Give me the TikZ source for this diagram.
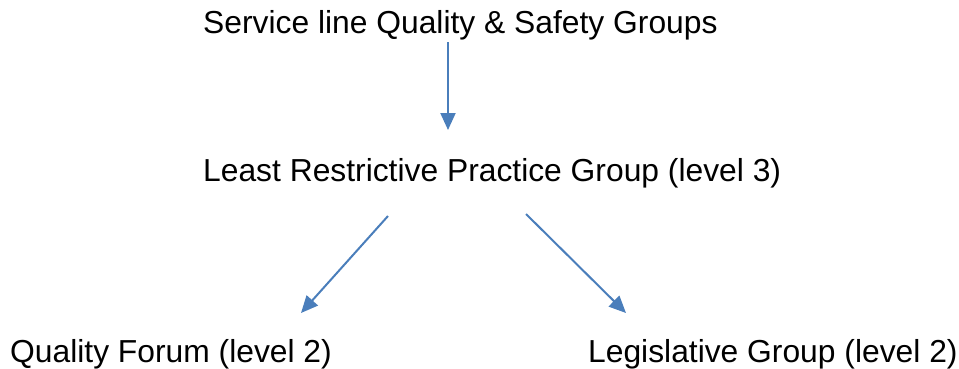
\documentclass[tikz,border=0pt]{standalone}
\usepackage{fontspec}
\setmainfont{Liberation Sans}
\usetikzlibrary{arrows.meta}
\definecolor{arrowblue}{RGB}{74,126,187}
\begin{document}
\begin{tikzpicture}[x=1pt, y=-1pt]
            \useasboundingbox (0,0) rectangle (959,368);

            \foreach \n/\x/\y/\t in {
                quality/203/33/{Service line Quality \& Safety Groups},
                lrp/203/181/{Least Restrictive Practice Group (level 3)},
                forum/10/362/{Quality Forum (level 2)},
                legis/588/362/{Legislative Group (level 2)}%
            } {
                \node[font=\fontsize{31.8}{38}\selectfont, anchor=base west,
                    inner sep=0pt] (\n) at (\x, \y) {\t};
            }

            \coordinate (q0) at (448, 42);
            \coordinate (l0) at (448, 130);
            \coordinate (l1) at (388, 216);
            \coordinate (f0) at (301, 313);
            \coordinate (l2) at (526, 214);
            \coordinate (g0) at (626, 313);

            \foreach \a/\b in {q0/l0, l1/f0, l2/g0} {
                \draw[-{Triangle[length=17pt, width=15pt]}, arrowblue,
                    line width=2pt] (\a) -- (\b);
            }
        \end{tikzpicture}
\end{document}
